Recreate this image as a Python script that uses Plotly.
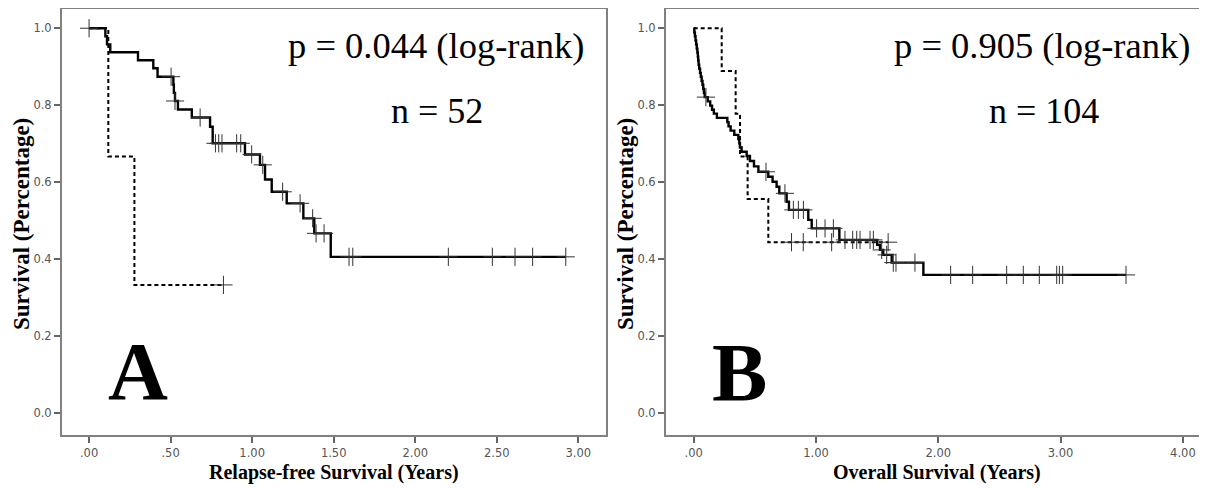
import plotly.graph_objects as go

# ---------------- data ----------------
# Panel A: Relapse-free survival
a_solid_times = [0.0, 0.10, 0.11, 0.13, 0.30, 0.394, 0.42, 0.517, 0.52, 0.527, 0.545,
                 0.63, 0.742, 0.758, 0.956, 1.048, 1.079, 1.12, 1.212, 1.314, 1.381, 1.482]
a_solid_surv = [1.0, 0.979, 0.958, 0.9375, 0.917, 0.896, 0.874, 0.853, 0.832, 0.811, 0.789,
                0.768, 0.744, 0.701, 0.672, 0.645, 0.607, 0.575, 0.545, 0.506, 0.467, 0.406]
a_solid_censor = [0.0, 0.503, 0.527, 0.681, 0.775, 0.795, 0.815, 0.905, 0.93, 0.997, 1.065,
                  1.187, 1.294, 1.371, 1.392, 1.441, 1.594, 1.617, 2.203, 2.473, 2.612, 2.72, 2.923]
a_dash_times = [0.0, 0.118, 0.278]
a_dash_surv = [1.0, 0.667, 0.333]
a_dash_censor = [0.824]

# Panel B: Overall survival
b_solid_times = [0.0, 0.005, 0.01, 0.015, 0.02, 0.025, 0.03, 0.034, 0.037, 0.04, 0.045, 0.052,
                 0.058, 0.065, 0.072, 0.078, 0.084, 0.09, 0.115, 0.135, 0.15, 0.165, 0.19,
                 0.275, 0.285, 0.302, 0.332, 0.365, 0.373, 0.378, 0.392, 0.433, 0.46, 0.493,
                 0.529, 0.61, 0.645, 0.678, 0.70, 0.76, 0.779, 0.937, 0.965, 1.191, 1.50,
                 1.523, 1.55, 1.619, 1.878]
b_solid_surv = [1.0, 0.989, 0.979, 0.968, 0.958, 0.947, 0.937, 0.926, 0.916, 0.905, 0.895, 0.884,
                0.874, 0.863, 0.853, 0.842, 0.832, 0.821, 0.810, 0.799, 0.788, 0.778, 0.767,
                0.756, 0.745, 0.734, 0.723, 0.712, 0.701, 0.690, 0.679, 0.668, 0.655, 0.641,
                0.627, 0.614, 0.601, 0.588, 0.571, 0.549, 0.528, 0.502, 0.480, 0.450, 0.437,
                0.424, 0.411, 0.391, 0.359]
b_solid_censor = [0.10, 0.591, 0.746, 0.815, 0.856, 0.897, 1.005, 1.074, 1.142, 1.237, 1.30,
                  1.333, 1.36, 1.442, 1.469, 1.537, 1.578, 1.632, 1.654, 1.809, 2.101, 2.281,
                  2.559, 2.695, 2.826, 2.968, 2.99, 3.017, 3.535]
b_dash_times = [0.0, 0.229, 0.343, 0.379, 0.441, 0.610]
b_dash_surv = [1.0, 0.889, 0.778, 0.667, 0.556, 0.444]
b_dash_censor = [0.80, 0.896, 1.128, 1.59]

y_tickvals = [0.0, 0.2, 0.4, 0.6, 0.8, 1.0]
y_ticktext = ["0.0", "0.2", "0.4", "0.6", "0.8", "1.0"]
a_x_tickvals = [0, 0.5, 1.0, 1.5, 2.0, 2.5, 3.0]
a_x_ticktext = [".00", ".50", "1.00", "1.50", "2.00", "2.50", "3.00"]
b_x_tickvals = [0, 1, 2, 3, 4]
b_x_ticktext = [".00", "1.00", "2.00", "3.00", "4.00"]

a_texts = ["p = 0.044 (log-rank)", "n = 52", "A"]
b_texts = ["p = 0.905 (log-rank)", "n = 104", "B"]
a_xtitle = "Relapse-free Survival (Years)"
b_xtitle = "Overall Survival (Years)"
y_title = "Survival (Percentage)"

# ---------------- helpers ----------------
# The page body has an 8px margin, so the figure starts at (8, 8) in the window.
OFF = 8
W, H = 1207 - OFF, 488 - OFF


def px(x):
    return min(1.0, max(0.0, (x - OFF) / W))


def py(y):
    return min(1.0, max(0.0, 1 - (y - OFF) / H))


def step_xy(times, surv, end):
    return list(times) + [end], list(surv) + [surv[-1]]


def surv_at(times, surv, t):
    val = surv[0]
    for ti, si in zip(times, surv):
        if ti <= t:
            val = si
    return val


fig = go.Figure()


def add_curve(times, surv, censor, xa, ya, dashed):
    end = max(max(times), max(censor))
    xs, ys = step_xy(times, surv, end)
    fig.add_trace(go.Scatter(
        x=xs, y=ys, mode="lines", line_shape="hv", xaxis=xa, yaxis=ya,
        line=dict(color="black", width=2.0 if dashed else 2.4,
                  dash="4px,3px" if dashed else "solid"),
        showlegend=False, hoverinfo="skip"))
    fig.add_trace(go.Scatter(
        x=censor, y=[surv_at(times, surv, c) for c in censor], mode="markers",
        xaxis=xa, yaxis=ya,
        marker=dict(symbol="cross-thin", size=13, line=dict(color="#333333", width=1)),
        showlegend=False, hoverinfo="skip"))


add_curve(a_dash_times, a_dash_surv, a_dash_censor, "x", "y", True)
add_curve(a_solid_times, a_solid_surv, a_solid_censor, "x", "y", False)
add_curve(b_dash_times, b_dash_surv, b_dash_censor, "x2", "y2", True)
add_curve(b_solid_times, b_solid_surv, b_solid_censor, "x2", "y2", False)

frame = "#808080"
tickfont = dict(family="DejaVu Sans", size=11.5, color="#555555")
common_axis = dict(showgrid=False, zeroline=False, showline=True, linecolor=frame,
                   linewidth=2, ticks="outside", ticklen=6, tickwidth=1.5,
                   tickcolor="#666666", tickfont=tickfont, fixedrange=True)

ydom = [py(435), py(9)]
fig.update_layout(
    width=W, height=H, margin=dict(l=0, r=0, t=0, b=0),
    paper_bgcolor="white", plot_bgcolor="white",
    xaxis=dict(domain=[px(62), px(605.7)], range=[-0.166, 3.168], mirror=True,
               tickvals=a_x_tickvals, ticktext=a_x_ticktext, anchor="y", **common_axis),
    yaxis=dict(domain=ydom, range=[-0.057, 1.050], mirror=True,
               tickvals=y_tickvals, ticktext=y_ticktext, anchor="x", **common_axis),
    xaxis2=dict(domain=[px(666), 1.0], range=[-0.2264, 4.197], mirror=True,
                tickvals=b_x_tickvals, ticktext=b_x_ticktext, anchor="y2", **common_axis),
    yaxis2=dict(domain=ydom, range=[-0.057, 1.050], mirror=False,
                tickvals=y_tickvals, ticktext=y_ticktext, anchor="x2", **common_axis),
)

serif = "Liberation Serif"
ann = []
# statistics texts
for texts, cx_p, cx_n in [(a_texts, 436, 437), (b_texts, 1042, 1044)]:
    ann.append(dict(text=texts[0], x=px(cx_p), y=py(45), xref="paper", yref="paper",
                    xanchor="center", yanchor="middle", showarrow=False,
                    font=dict(family=serif, size=36.5, color="black")))
    ann.append(dict(text=texts[1], x=px(cx_n), y=py(111), xref="paper", yref="paper",
                    xanchor="center", yanchor="middle", showarrow=False,
                    font=dict(family=serif, size=36, color="black")))
# panel letters
ann.append(dict(text="<b>" + a_texts[2] + "</b>", x=px(138), y=py(371), xref="paper",
                yref="paper", xanchor="center", yanchor="middle", showarrow=False,
                font=dict(family=serif, size=83, color="black")))
ann.append(dict(text="<b>" + b_texts[2] + "</b>", x=px(739), y=py(372), xref="paper",
                yref="paper", xanchor="center", yanchor="middle", showarrow=False,
                font=dict(family=serif, size=83, color="black")))
# axis titles
ann.append(dict(text="<b>" + a_xtitle + "</b>", x=px(334), y=py(472), xref="paper",
                yref="paper", xanchor="center", yanchor="middle", showarrow=False,
                font=dict(family=serif, size=20, color="black")))
ann.append(dict(text="<b>" + b_xtitle + "</b>", x=px(936.5), y=py(472), xref="paper",
                yref="paper", xanchor="center", yanchor="middle", showarrow=False,
                font=dict(family=serif, size=20, color="black")))
for cx in [22, 626]:
    ann.append(dict(text="<b>" + y_title + "</b>", x=px(cx), y=py(224), xref="paper",
                    yref="paper", xanchor="center", yanchor="middle", showarrow=False,
                    textangle=-90, font=dict(family=serif, size=23, color="black")))
fig.update_layout(annotations=ann)

fig.write_html("out.html", config={"displayModeBar": False})
